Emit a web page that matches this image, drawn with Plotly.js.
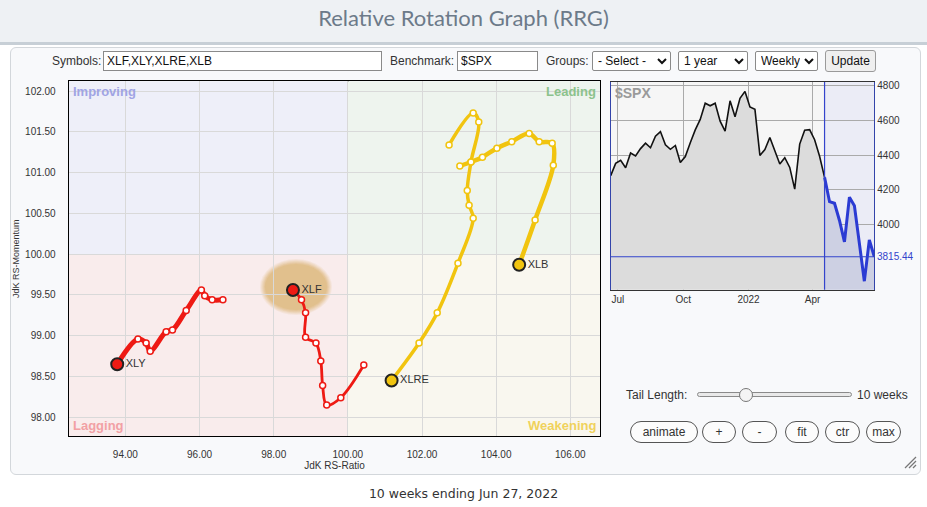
<!DOCTYPE html>
<html>
<head>
<meta charset="utf-8">
<script src="https://cdn.plot.ly/plotly-3.0.1.min.js"></script>
<style>
  html, body { margin:0; padding:0; width:927px; height:507px; overflow:hidden; background:#ffffff; font-family:"Liberation Sans", Arial, sans-serif; }
  #header { position:absolute; left:0; top:0; width:927px; height:42px; background:#eef1f4; border-bottom:3px solid #c7cfd6; }
  #header h1 { margin:0; font-family:Lato, "Open Sans", sans-serif; font-weight:400; font-size:22px; color:#6c7a89; text-align:center; line-height:36px; }
  #panel { position:absolute; left:10px; top:47px; width:911px; height:428px; border:1px solid #d3d7db; border-radius:6px; background:#f8f9fb; box-sizing:border-box; }
  #chart { position:absolute; left:0; top:0; width:927px; height:507px; }
  .lbl { position:absolute; font-size:12px; color:#333; white-space:nowrap; }
  .inp { position:absolute; height:20px; box-sizing:border-box; border:1px solid #8a8a8a; background:#fff; font-size:12px; font-family:"Liberation Sans", Arial, sans-serif; padding:1px 3px; color:#111; }
  .sel { position:absolute; height:20px; box-sizing:border-box; border:1px solid #8a8a8a; border-radius:2px; background:#fff; font-size:12px; font-family:"Liberation Sans", Arial, sans-serif; color:#111; padding:0 1px; }
  .btn { position:absolute; height:22px; box-sizing:border-box; border:1px solid #9a9a9a; border-radius:3px; background:#efefef; font-size:12px; font-family:"Liberation Sans", Arial, sans-serif; color:#111; padding:0; }
  .pill { position:absolute; top:421px; height:22px; box-sizing:border-box; border:1px solid #555; border-radius:11px; background:#fcfcfc; font-size:12px; font-family:"Liberation Sans", Arial, sans-serif; color:#333; padding:0; }
  #footer { position:absolute; left:0; top:486px; width:927px; text-align:center; font-family:"DejaVu Sans", Verdana, sans-serif; font-size:12.5px; color:#333; }
  #track { position:absolute; left:697px; top:392px; width:155px; height:5px; border:1px solid #8a8a8a; border-radius:4px; background:#e9e9e9; box-sizing:border-box; }
  #thumb { position:absolute; left:739px; top:388px; width:14px; height:14px; border:1px solid #777; border-radius:50%; background:#f4f4f4; box-sizing:border-box; }
</style>
</head>
<body>
<div id="header"><h1>Relative Rotation Graph (RRG)</h1></div>
<div id="panel"></div>
<div id="chart"></div>

<span class="lbl" style="left:52px; top:54px;">Symbols:</span>
<input class="inp" style="left:103px; top:51px; width:279px;" value="XLF,XLY,XLRE,XLB">
<span class="lbl" style="left:390px; top:54px;">Benchmark:</span>
<input class="inp" style="left:457px; top:51px; width:81px;" value="$SPX">
<span class="lbl" style="left:546px; top:54px;">Groups:</span>
<select class="sel" style="left:592px; top:51px; width:79px;"><option>- Select -</option></select>
<select class="sel" style="left:678px; top:51px; width:70px;"><option>1 year</option></select>
<select class="sel" style="left:755px; top:51px; width:63px;"><option>Weekly</option></select>
<button class="btn" style="left:825px; top:50px; width:51px;">Update</button>

<span class="lbl" style="left:626px; top:388px;">Tail Length:</span>
<div id="track"></div><div id="thumb"></div>
<span class="lbl" style="left:857px; top:388px;">10 weeks</span>

<button class="pill" style="left:630px; width:68px;">animate</button>
<button class="pill" style="left:702px; width:34px;">+</button>
<button class="pill" style="left:742px; width:35px;">-</button>
<button class="pill" style="left:785px; width:34px;">fit</button>
<button class="pill" style="left:825px; width:35px;">ctr</button>
<button class="pill" style="left:866px; width:35px;">max</button>

<svg style="position:absolute; left:903px; top:455px;" width="14" height="14">
  <line x1="2" y1="13" x2="13" y2="2" stroke="#777" stroke-width="1.2"/>
  <line x1="6" y1="13" x2="13" y2="6" stroke="#777" stroke-width="1.2"/>
  <line x1="10" y1="13" x2="13" y2="10" stroke="#777" stroke-width="1.2"/>
</svg>

<div id="footer">10 weeks ending Jun 27, 2022</div>

<script>
// ---------- RRG data (JdK RS-Ratio / JdK RS-Momentum), oldest -> latest ----------
const symbols = ['XLF', 'XLY', 'XLRE', 'XLB'];
const xlfRatio  = [100.43, 99.81, 99.43, 99.32, 99.27, 99.14, 98.86, 98.86, 98.75, 98.52];
const xlfMom    = [98.64, 98.24, 98.15, 98.39, 98.69, 98.91, 98.98, 99.28, 99.44, 99.56];
const xlyRatio  = [96.63, 96.34, 96.14, 96.05, 95.64, 95.27, 95.10, 94.67, 94.56, 94.34, 93.78];
const xlyMom    = [99.44, 99.44, 99.49, 99.56, 99.31, 99.07, 99.05, 98.81, 98.91, 98.96, 98.65];
const xlreRatio = [102.73, 103.38, 103.53, 103.32, 103.22, 103.27, 103.38, 102.97, 102.41, 101.92, 101.18];
const xlreMom   = [101.34, 101.73, 101.62, 101.13, 100.78, 100.60, 100.44, 99.89, 99.28, 98.91, 98.45];
const xlbRatio  = [103.02, 103.32, 103.63, 104.02, 104.42, 104.89, 105.16, 105.51, 105.54, 105.05, 104.62];
const xlbMom    = [101.08, 101.13, 101.19, 101.30, 101.38, 101.48, 101.38, 101.36, 101.09, 100.42, 99.87];

// ---------- Benchmark ($SPX weekly) ----------
const spxDates = ['2021-06-21','2021-06-28','2021-07-05','2021-07-12','2021-07-19','2021-07-26',
  '2021-08-02','2021-08-09','2021-08-16','2021-08-23','2021-08-30','2021-09-06','2021-09-13',
  '2021-09-20','2021-09-27','2021-10-04','2021-10-11','2021-10-18','2021-10-25','2021-11-01',
  '2021-11-08','2021-11-15','2021-11-22','2021-11-29','2021-12-06','2021-12-13','2021-12-20',
  '2021-12-27','2022-01-03','2022-01-10','2022-01-17','2022-01-24','2022-01-31','2022-02-07',
  '2022-02-14','2022-02-21','2022-02-28','2022-03-07','2022-03-14','2022-03-21','2022-03-28',
  '2022-04-04','2022-04-11','2022-04-18','2022-04-25','2022-05-02','2022-05-09','2022-05-16',
  '2022-05-23','2022-05-30','2022-06-06','2022-06-13','2022-06-20','2022-06-27'];
const spxClose = [4281, 4352, 4370, 4327, 4412, 4395,
  4437, 4468, 4442, 4509, 4535, 4459, 4433,
  4455, 4357, 4391, 4471, 4545, 4605, 4698,
  4683, 4698, 4595, 4538, 4712, 4620, 4726,
  4766, 4677, 4663, 4398, 4432, 4501, 4419,
  4349, 4385, 4329, 4204, 4463, 4543, 4546,
  4488, 4393, 4272, 4132, 4123, 4024, 3901,
  4158, 4109, 3901, 3675, 3912, 3815.44];
const spxMonthTicks = ['2021-07-01', '2021-10-01', '2022-01-01', '2022-04-01'];
const spxMonthLabels = ['Jul', 'Oct', '2022', 'Apr'];
const spxPriceTicks = [4000, 4200, 4400, 4600, 4800];
const tailWeeks = 10;

// ---------- layout helpers ----------
const W = 927, H = 507;
const px = v => v / W, py = v => 1 - v / H;
const xRange = [92.48, 106.80];
const yRange = [97.77, 102.12];
const center = 100;

const RED = '#ee1a14', YEL = '#f1c40f';
const series = [
  {name: 'XLY',  x: xlyRatio,  y: xlyMom,  color: RED, width: 5},
  {name: 'XLF',  x: xlfRatio,  y: xlfMom,  color: RED, width: 2.8},
  {name: 'XLRE', x: xlreRatio, y: xlreMom, color: YEL, width: 3.5},
  {name: 'XLB',  x: xlbRatio,  y: xlbMom,  color: YEL, width: 4.5}
];

const traces = [];
series.forEach(s => {
  traces.push({
    type: 'scatter', mode: 'lines+markers', x: s.x, y: s.y, xaxis: 'x', yaxis: 'y',
    line: {color: s.color, width: s.width, shape: 'spline', smoothing: 1},
    marker: {size: 6, color: '#ffffff', line: {color: s.color, width: 1.5}},
    hoverinfo: 'skip', showlegend: false
  });
});
series.forEach(s => {
  const n = s.x.length - 1;
  traces.push({
    type: 'scatter', mode: 'markers+text', x: [s.x[n]], y: [s.y[n]], xaxis: 'x', yaxis: 'y',
    text: [s.name], textposition: 'middle right',
    textfont: {family: 'Liberation Sans, Arial, sans-serif', size: 11, color: '#333'},
    marker: {size: 12, color: s.color, line: {color: '#222', width: 2}},
    hoverinfo: 'skip', showlegend: false
  });
});

// SPX traces
const ts = spxDates.length - 1 - tailWeeks;
traces.push({
  type: 'scatter', mode: 'lines', x: spxDates.slice(0, ts + 1), y: spxClose.slice(0, ts + 1),
  xaxis: 'x2', yaxis: 'y2', fill: 'tozeroy', fillcolor: '#dcdcdc',
  line: {color: '#111', width: 1.6}, hoverinfo: 'skip', showlegend: false
});
traces.push({
  type: 'scatter', mode: 'lines', x: spxDates.slice(ts), y: spxClose.slice(ts),
  xaxis: 'x2', yaxis: 'y2', fill: 'tozeroy', fillcolor: '#cdd0e3',
  line: {color: '#2b3bd3', width: 3}, hoverinfo: 'skip', showlegend: false
});

const shapes = [];
// quadrant backgrounds
shapes.push({type:'rect', xref:'x', yref:'y', x0:xRange[0], x1:center, y0:center, y1:yRange[1], fillcolor:'#eeeff9', line:{width:0}, layer:'below'});
shapes.push({type:'rect', xref:'x', yref:'y', x0:center, x1:xRange[1], y0:center, y1:yRange[1], fillcolor:'#eef4ee', line:{width:0}, layer:'below'});
shapes.push({type:'rect', xref:'x', yref:'y', x0:xRange[0], x1:center, y0:yRange[0], y1:center, fillcolor:'#f9ecec', line:{width:0}, layer:'below'});
shapes.push({type:'rect', xref:'x', yref:'y', x0:center, x1:xRange[1], y0:yRange[0], y1:center, fillcolor:'#f9f7ef', line:{width:0}, layer:'below'});
// highlight glow around XLF head (soft edged: stacked ellipses)
const fx = xlfRatio[xlfRatio.length - 1], fy = xlfMom[xlfMom.length - 1];
[[36, 28, 0.10], [35, 27, 0.12], [34, 26, 0.14], [33, 25, 0.16], [32, 24, 0.18], [31, 23, 0.2]].forEach(g => {
  shapes.push({type:'circle', xref:'x', yref:'y', xsizemode:'pixel', ysizemode:'pixel',
    xanchor: fx, yanchor: fy, x0: 3 - g[0], x1: 3 + g[0], y0: 3 - g[1], y1: 3 + g[1],
    fillcolor: 'rgba(212,168,85,' + g[2] + ')', line: {width: 0}, layer: 'below'});
});
// center cross lines
shapes.push({type:'line', xref:'x', yref:'y domain', x0:center, x1:center, y0:0, y1:1, line:{color:'#000', width:1.3}, layer:'below'});
shapes.push({type:'line', xref:'x domain', yref:'y', x0:0, x1:1, y0:center, y1:center, line:{color:'#000', width:1.3}, layer:'below'});
// SPX tail highlight
const spxLast = spxClose[spxClose.length - 1];
shapes.push({type:'rect', xref:'x2', yref:'y2 domain', x0:spxDates[ts], x1:spxDates[spxDates.length-1], y0:0, y1:1, fillcolor:'#ebecf6', line:{width:0}, layer:'below'});
shapes.push({type:'line', xref:'x2', yref:'y2 domain', x0:spxDates[ts], x1:spxDates[ts], y0:0, y1:1, line:{color:'#3344cc', width:1.2}});
shapes.push({type:'line', xref:'x2 domain', yref:'y2', x0:0, x1:1, y0:spxLast, y1:spxLast, line:{color:'#3344cc', width:1.2}});

const qfont = (c) => ({family:'Liberation Sans, Arial, sans-serif', size:13, color:c});
const annotations = [
  {xref:'x domain', yref:'y domain', x:0.003, y:0.997, xanchor:'left', yanchor:'top', text:'<b>Improving</b>', showarrow:false, font:qfont('#a0a4e4')},
  {xref:'x domain', yref:'y domain', x:0.997, y:0.997, xanchor:'right', yanchor:'top', text:'<b>Leading</b>', showarrow:false, font:qfont('#8cc28c')},
  {xref:'x domain', yref:'y domain', x:0.003, y:0.003, xanchor:'left', yanchor:'bottom', text:'<b>Lagging</b>', showarrow:false, font:qfont('#f2a0a4')},
  {xref:'x domain', yref:'y domain', x:0.997, y:0.003, xanchor:'right', yanchor:'bottom', text:'<b>Weakening</b>', showarrow:false, font:qfont('#f0d25c')},
  {xref:'x2 domain', yref:'y2 domain', x:0.01, y:0.995, xanchor:'left', yanchor:'top', text:'<b>$SPX</b>', showarrow:false, font:{family:'Liberation Sans, Arial, sans-serif', size:14, color:'#9a9a9a'}},
  {xref:'x2 domain', yref:'y2', x:1, y:spxLast, xanchor:'left', yanchor:'middle', xshift:1, text:spxLast.toFixed(2), showarrow:false, font:{family:'Liberation Sans, Arial, sans-serif', size:10, color:'#3344cc'}}
];

const tickFont = {family:'Liberation Sans, Arial, sans-serif', size:10, color:'#333'};
const layout = {
  width: W, height: H, margin: {l:0, r:0, t:0, b:0},
  paper_bgcolor: 'rgba(0,0,0,0)', plot_bgcolor: '#f6f6f6',
  showlegend: false, hovermode: false,
  xaxis: {domain:[px(69), px(600)], range:xRange, dtick:2, tick0:0, tickformat:'.2f',
    showgrid:true, gridcolor:'#d9d9d9', gridwidth:1, zeroline:false,
    showline:true, mirror:true, linecolor:'#000', linewidth:1.3,
    ticks:'outside', ticklen:9, tickcolor:'rgba(0,0,0,0)', tickfont:tickFont,
    title:{text:'JdK RS-Ratio', font:{family:'Liberation Sans, Arial, sans-serif', size:10, color:'#333'}, standoff:2},
    automargin:false, fixedrange:true},
  yaxis: {domain:[py(436), py(81.3)], range:yRange, dtick:0.5, tick0:0, tickformat:'.2f',
    showgrid:true, gridcolor:'#d9d9d9', gridwidth:1, zeroline:false,
    showline:true, mirror:true, linecolor:'#000', linewidth:1.3,
    ticks:'outside', ticklen:10, tickcolor:'rgba(0,0,0,0)', tickfont:tickFont,
    title:{text:'JdK RS-Momentum', font:{family:'Liberation Sans, Arial, sans-serif', size:9, color:'#333'}, standoff:4},
    automargin:false, fixedrange:true},
  xaxis2: {domain:[px(610.7), px(874.3)], anchor:'y2', type:'date',
    range:[spxDates[0], spxDates[spxDates.length-1]],
    tickvals: spxMonthTicks, ticktext: spxMonthLabels,
    showgrid:true, gridcolor:'#aaaaaa', gridwidth:1, zeroline:false,
    showline:true, mirror:true, linecolor:'#333', linewidth:1,
    ticks:'', tickfont:tickFont, automargin:false, fixedrange:true},
  yaxis2: {domain:[py(289.7), py(82)], anchor:'x2', side:'right', range:[3626, 4820],
    tickvals: spxPriceTicks, showgrid:true, gridcolor:'#aaaaaa', gridwidth:1, zeroline:false,
    showline:true, mirror:true, linecolor:'#3344aa', linewidth:1,
    ticks:'', tickfont:tickFont, automargin:false, fixedrange:true},
  shapes: shapes, annotations: annotations
};

Plotly.newPlot('chart', traces, layout, {staticPlot:true, displayModeBar:false});
</script>
</body>
</html>
